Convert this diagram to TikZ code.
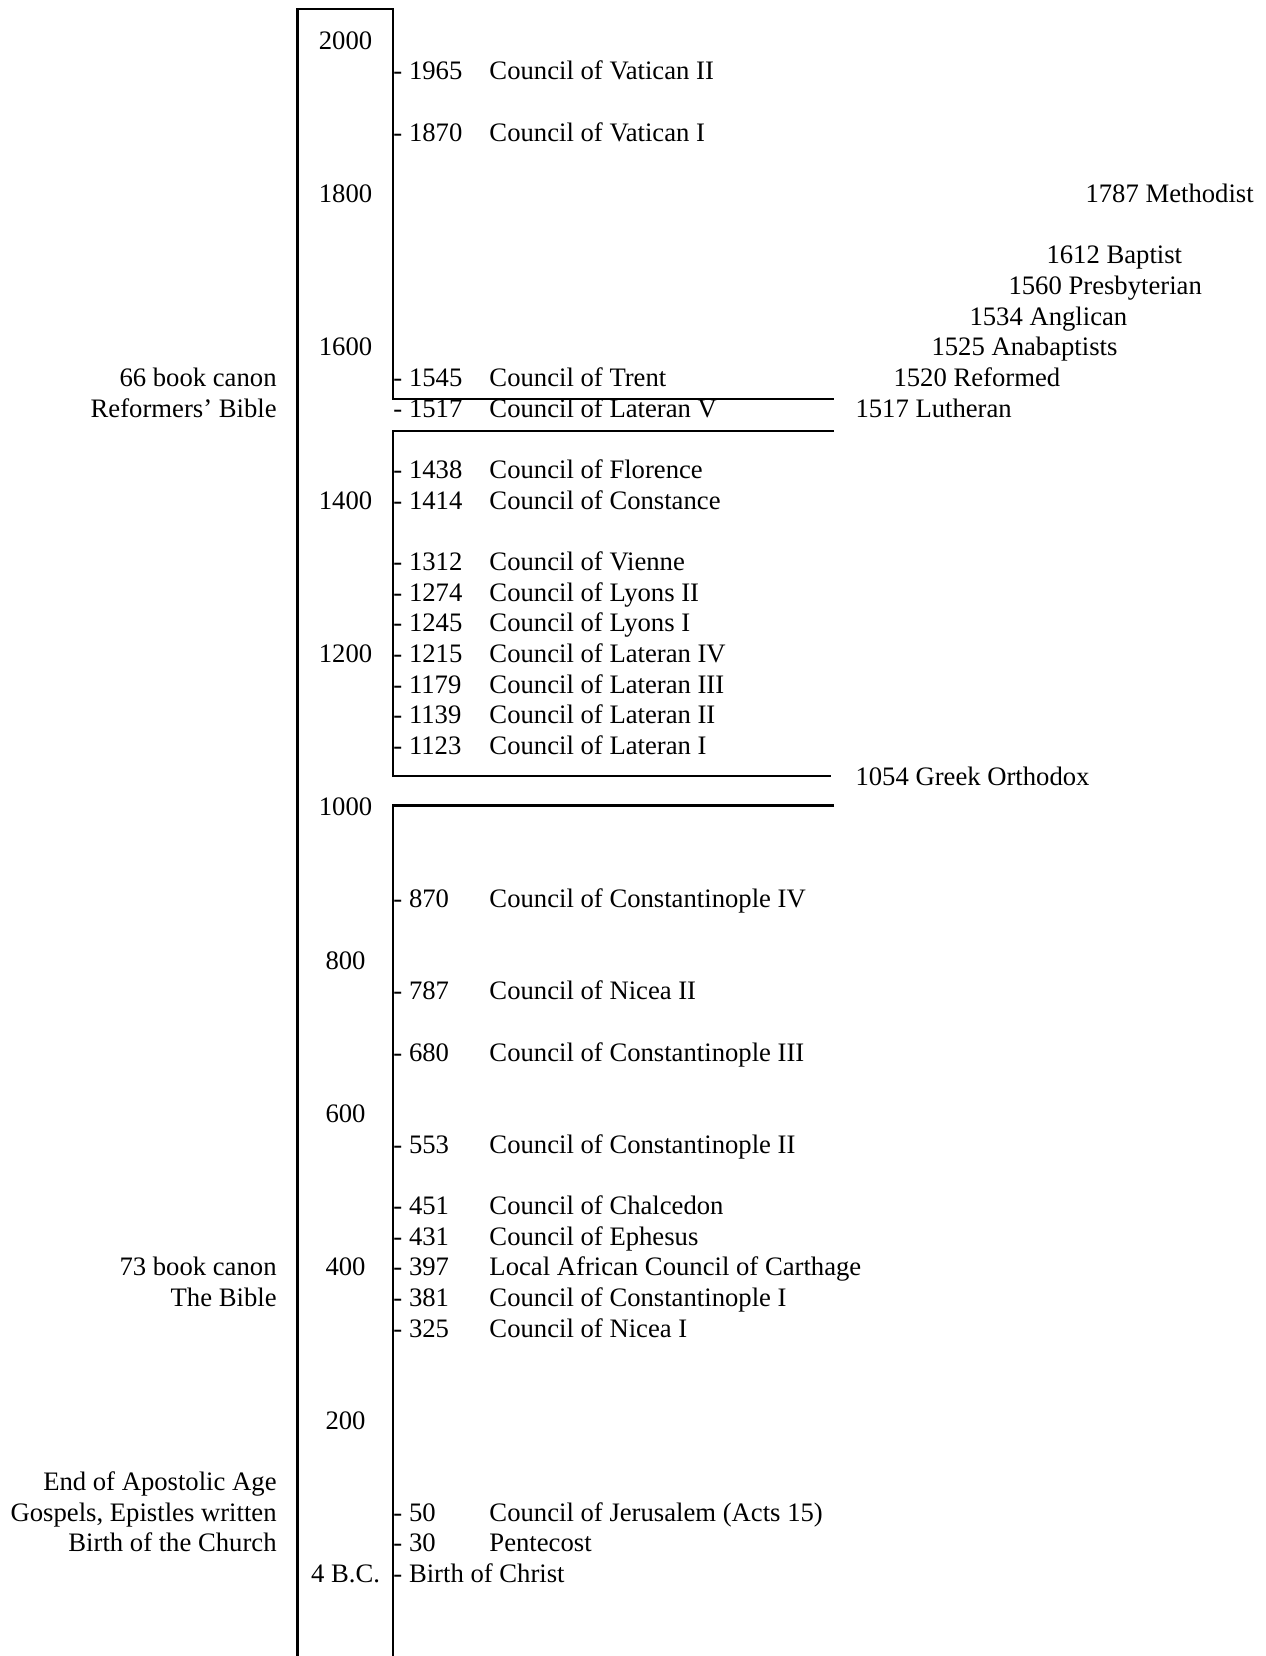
\documentclass[tikz,border=0pt]{standalone}
\usepackage{fontspec}
\setmainfont{Liberation Serif}

\begin{document}
\begin{tikzpicture}[
    x=0.45pt, y=-13.8pt,
    font=\fontsize{12pt}{13.8pt}\selectfont,
    rail/.style={line width=1.15pt, line join=miter},
    scalelbl/.style={anchor=base, inner sep=0pt},
    evdate/.style={anchor=base west, inner sep=0pt},
    evname/.style={anchor=base west, inner sep=0pt},
    sidenote/.style={anchor=base east, inner sep=0pt},
    branch/.style={anchor=base west, inner sep=0pt}
  ]
    \useasboundingbox (0,-1.601) rectangle (1265,52.394);

    % the time line and its breaks
    \coordinate (bl) at (297.5,52.4);
    \coordinate (tl) at (297.5,-1.307);
    \coordinate (tr) at (393,-1.307);
    \coordinate (s1) at (393,11.41);
    \coordinate (s1e) at (834,11.41);
    \coordinate (s2e) at (834,12.446);
    \coordinate (s2) at (393,12.446);
    \coordinate (s3) at (393,23.70);
    \coordinate (s3e) at (831,23.70);
    \coordinate (s4e) at (834,24.665);
    \coordinate (s4) at (393,24.665);
    \coordinate (br) at (393,52.4);
    \draw[rail] (bl) -- (tl) -- (tr) -- (s1) -- (s1e);
    \draw[rail] (s2e) -- (s2) -- (s3) -- (s3e);
    \draw[rail] (s4e) -- (s4) -- (br);

    % century scale
    \node[scalelbl] (c2000) at (345.5,0) {2000};
    \node[scalelbl] (c1800) at (345.5,5) {1800};
    \node[scalelbl] (c1600) at (345.5,10) {1600};
    \node[scalelbl] (c1400) at (345.5,15) {1400};
    \node[scalelbl] (c1200) at (345.5,20) {1200};
    \node[scalelbl] (c1000) at (345.5,25) {1000};
    \node[scalelbl] (c800) at (345.5,30) {800};
    \node[scalelbl] (c600) at (345.5,35) {600};
    \node[scalelbl] (c400) at (345.5,40) {400};
    \node[scalelbl] (c200) at (345.5,45) {200};
    \node[scalelbl] (c4bc) at (345.5,50) {4 B.C.};

    % councils
    \node[evdate] (d1965) at (393,1) {- 1965};
    \node[evname] (n1965) at (489,1) {Council of Vatican II};
    \node[evdate] (d1870) at (393,3) {- 1870};
    \node[evname] (n1870) at (489,3) {Council of Vatican I};
    \node[evdate] (d1545) at (393,11) {- 1545};
    \node[evname] (n1545) at (489,11) {Council of Trent};
    \node[evdate] (d1517) at (393,12) {- 1517};
    \node[evname] (n1517) at (489,12) {Council of Lateran V};
    \node[evdate] (d1438) at (393,14) {- 1438};
    \node[evname] (n1438) at (489,14) {Council of Florence};
    \node[evdate] (d1414) at (393,15) {- 1414};
    \node[evname] (n1414) at (489,15) {Council of Constance};
    \node[evdate] (d1312) at (393,17) {- 1312};
    \node[evname] (n1312) at (489,17) {Council of Vienne};
    \node[evdate] (d1274) at (393,18) {- 1274};
    \node[evname] (n1274) at (489,18) {Council of Lyons II};
    \node[evdate] (d1245) at (393,19) {- 1245};
    \node[evname] (n1245) at (489,19) {Council of Lyons I};
    \node[evdate] (d1215) at (393,20) {- 1215};
    \node[evname] (n1215) at (489,20) {Council of Lateran IV};
    \node[evdate] (d1179) at (393,21) {- 1179};
    \node[evname] (n1179) at (489,21) {Council of Lateran III};
    \node[evdate] (d1139) at (393,22) {- 1139};
    \node[evname] (n1139) at (489,22) {Council of Lateran II};
    \node[evdate] (d1123) at (393,23) {- 1123};
    \node[evname] (n1123) at (489,23) {Council of Lateran I};
    \node[evdate] (d870) at (393,28) {- 870};
    \node[evname] (n870) at (489,28) {Council of Constantinople IV};
    \node[evdate] (d787) at (393,31) {- 787};
    \node[evname] (n787) at (489,31) {Council of Nicea II};
    \node[evdate] (d680) at (393,33) {- 680};
    \node[evname] (n680) at (489,33) {Council of Constantinople III};
    \node[evdate] (d553) at (393,36) {- 553};
    \node[evname] (n553) at (489,36) {Council of Constantinople II};
    \node[evdate] (d451) at (393,38) {- 451};
    \node[evname] (n451) at (489,38) {Council of Chalcedon};
    \node[evdate] (d431) at (393,39) {- 431};
    \node[evname] (n431) at (489,39) {Council of Ephesus};
    \node[evdate] (d397) at (393,40) {- 397};
    \node[evname] (n397) at (489,40) {Local African Council of Carthage};
    \node[evdate] (d381) at (393,41) {- 381};
    \node[evname] (n381) at (489,41) {Council of Constantinople I};
    \node[evdate] (d325) at (393,42) {- 325};
    \node[evname] (n325) at (489,42) {Council of Nicea I};
    \node[evdate] (d50) at (393,48) {- 50};
    \node[evname] (n50) at (489,48) {Council of Jerusalem (Acts 15)};
    \node[evdate] (d30) at (393,49) {- 30};
    \node[evname] (n30) at (489,49) {Pentecost};
    \node[evdate] (dbirth) at (393,50) {- Birth of Christ};

    % churches that split off
    \node[branch] (methodist) at (1085,5) {1787 Methodist};
    \node[branch] (baptist) at (1046,7) {1612 Baptist};
    \node[branch] (presby) at (1008,8) {1560 Presbyterian};
    \node[branch] (anglican) at (969,9) {1534 Anglican};
    \node[branch] (anabapt) at (931,10) {1525 Anabaptists};
    \node[branch] (reformed) at (893,11) {1520 Reformed};
    \node[branch] (lutheran) at (855,12) {1517 Lutheran};
    \node[branch] (orthodox) at (855,24) {1054 Greek Orthodox};

    % notes on the left
    \node[sidenote] (canon66) at (277,11) {66 book canon};
    \node[sidenote] (refbible) at (277,12) {Reformers' Bible};
    \node[sidenote] (canon73) at (277,40) {73 book canon};
    \node[sidenote] (bible) at (277,41) {The Bible};
    \node[sidenote] (apostolic) at (277,47) {End of Apostolic Age};
    \node[sidenote] (gospels) at (277,48) {Gospels, Epistles written};
    \node[sidenote] (church) at (277,49) {Birth of the Church};
  \end{tikzpicture}
\end{document}
